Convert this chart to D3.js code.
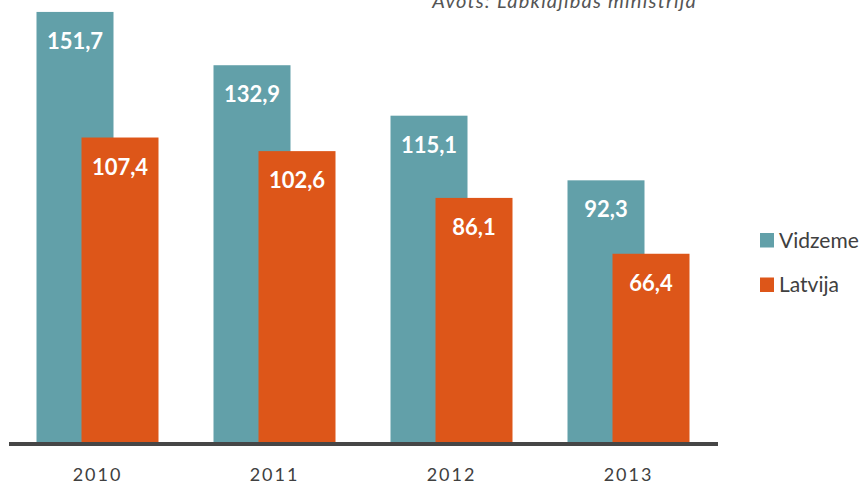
<!DOCTYPE html>
<html>
<head>
<meta charset="utf-8">
<script src="https://cdn.jsdelivr.net/npm/d3@7"></script>
<style>
  body { margin: 0; background: #fff; }
  svg text { font-family: Lato, "Open Sans", sans-serif; }
</style>
</head>
<body>
<div class="chart"></div>
<script>
const years = ['2010', '2011', '2012', '2013'];
const vidzeme = [151.7, 132.9, 115.1, 92.3];
const latvija = [107.4, 102.6, 86.1, 66.4];
const seriesNames = ['Vidzeme', 'Latvija'];
const source = 'Avots: Labklājības ministrija';

const width = 867;
const height = 484;
const colors = ['#62a0a9', '#dd5619'];

const svg = d3.select('.chart')
.append('svg')
.attr('width', width)
.attr('height', height);

const xScale = d3.scaleBand()
.domain(years)
.range([9, 717])
.paddingInner(0)
.paddingOuter(0);

const yScale = d3.scaleLinear()
.domain([0, 150])
.range([442, 442 - 150 * 2.835]);

const barW = 77;
const offset = 45;
// group is centred in its band: vidzeme left, latvija shifted right
const groupLeft = y => xScale(y) + xScale.bandwidth() / 2 - (barW + offset) / 2;

const series = [vidzeme, latvija];
series.forEach((vals, s) => {
    const g = svg.append('g');
    g.selectAll('rect')
    .data(years)
    .enter()
    .append('rect')
    .attr('x', d => groupLeft(d) + s * offset)
    .attr('y', (d, i) => yScale(vals[i]))
    .attr('width', barW)
    .attr('height', (d, i) => yScale(0) - yScale(vals[i]))
    .attr('fill', colors[s]);

    g.selectAll('text')
    .data(years)
    .enter()
    .append('text')
    .attr('x', d => groupLeft(d) + s * offset + barW / 2)
    .attr('y', (d, i) => yScale(vals[i]) + 37)
    .attr('text-anchor', 'middle')
    .attr('fill', '#fff')
    .attr('font-weight', 'bold')
    .attr('font-size', 22)
    .text((d, i) => vals[i].toFixed(1).replace('.', ','));
});

// baseline
svg.append('line')
.attr('x1', 9)
.attr('x2', 718)
.attr('y1', 444)
.attr('y2', 444)
.attr('stroke', '#464646')
.attr('stroke-width', 4);

const xAxis = svg.append('g')
.attr('transform', 'translate(0,481)')
.call(d3.axisBottom(xScale).tickSize(0).tickPadding(0));
xAxis.select('.domain').remove();
xAxis.selectAll('text')
.attr('dy', 0)
.attr('font-family', 'Lato, sans-serif')
.attr('font-size', 18)
.attr('letter-spacing', 2)
.attr('fill', '#404040');

// legend
const legend = svg.selectAll('.legend')
.data(seriesNames)
.enter()
.append('g')
.attr('transform', (d, i) => `translate(760, ${233 + i * 44.5})`);

legend.append('rect')
.attr('width', 14)
.attr('height', 14.5)
.attr('fill', (d, i) => colors[i]);

legend.append('text')
.attr('x', 19)
.attr('y', 14.5)
.attr('font-size', 21)
.attr('fill', '#404040')
.text(d => d);

svg.append('text')
.attr('x', 697)
.attr('y', 8)
.attr('text-anchor', 'end')
.attr('font-style', 'italic')
.attr('font-size', 20)
.attr('letter-spacing', 1.2)
.attr('fill', '#555')
.text(source);
</script>
</body>
</html>
